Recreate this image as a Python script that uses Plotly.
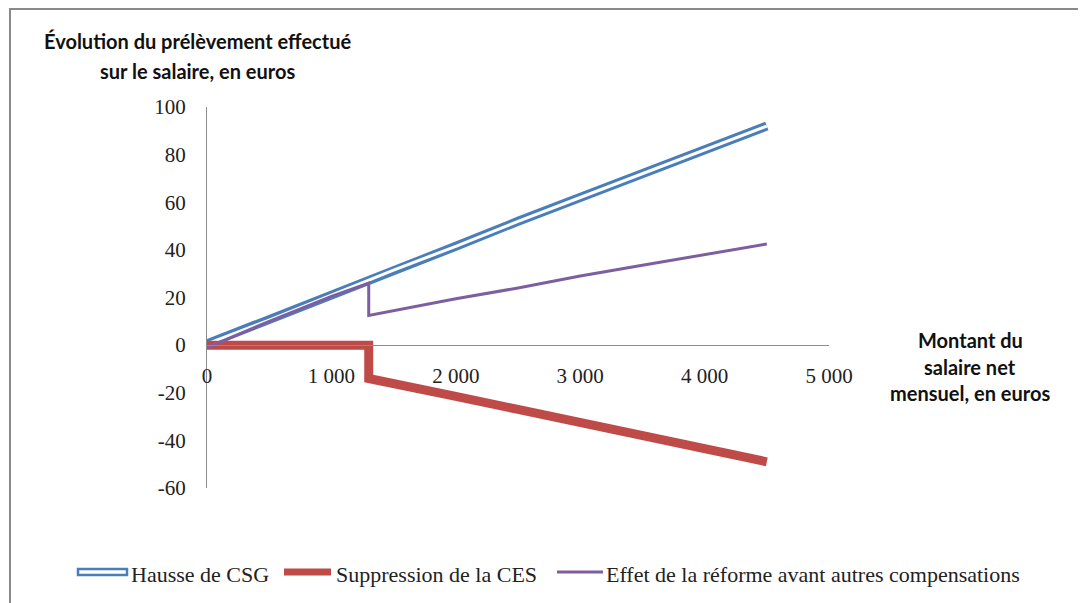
import plotly.graph_objects as go

# Data (net monthly salary in euros -> change in levy, euros)
salaire = [0, 500, 1000, 1300, 1300, 1500, 2000, 2500, 3000, 3500, 4000, 4500]
hausse_csg = [0.5, 10.5, 21, 27.5, 27.5, 31.5, 41.5, 52, 62, 72, 82, 92]
suppression_ces = [0, 0, 0, 0, -14, -16, -21.5, -27, -32.5, -38, -43.5, -49]
effet_reforme = [-1, 10, 20.5, 26, 12.5, 14.5, 19.5, 24, 29, 33.5, 38, 42.5]

x_ticks = [0, 1000, 2000, 3000, 4000, 5000]
y_ticks = [-60, -40, -20, 0, 20, 40, 60, 80, 100]
y_labels = ["-60", "-40", "-20", "0", "20", "40", "60", "80", "100"]

BLUE = "#4a7ebb"
RED = "#be4b48"
PURPLE = "#7d5fa0"
AXIS_GREY = "#8c8c8c"

# Page geometry (pixels, as seen in the browser window)
W, H = 1086, 603
L, R, T, B = 207, 829, 107, 488
OFF = 8  # default body margin of the html page


def px(x):
    return (x - L) / (R - L)


def py(y):
    return (B - y) / (B - T)


fig = go.Figure()

# Hausse de CSG: blue outline with white core
fig.add_trace(go.Scatter(x=salaire, y=hausse_csg, mode="lines",
                         line=dict(color=BLUE, width=9), name="Hausse de CSG"))
fig.add_trace(go.Scatter(x=salaire, y=hausse_csg, mode="lines",
                         line=dict(color="white", width=3), hoverinfo="skip"))
fig.add_trace(go.Scatter(x=salaire, y=suppression_ces, mode="lines",
                         line=dict(color=RED, width=9), name="Suppression de la CES"))
fig.add_trace(go.Scatter(x=salaire, y=effet_reforme, mode="lines",
                         line=dict(color=PURPLE, width=3),
                         name="Effet de la réforme avant autres compensations"))

serif = dict(family="Liberation Serif", size=21, color="#222")
bold = dict(family="Lato", size=20, color="#111")

fig.update_xaxes(range=[0, 5000], tickvals=x_ticks, tickformat=",d",
                 anchor="free", position=60 / 160,
                 showline=True, linecolor=AXIS_GREY, linewidth=1,
                 ticks="outside", ticklen=12, tickcolor="rgba(0,0,0,0)",
                 showgrid=False, zeroline=False, tickfont=serif)
fig.update_yaxes(range=[-60, 100], tickvals=y_ticks, ticktext=y_labels,
                 showline=True, linecolor=AXIS_GREY, linewidth=1,
                 ticks="outside", ticklen=16, tickcolor="rgba(0,0,0,0)",
                 showgrid=False, zeroline=False, tickfont=serif)

shapes = []
annotations = []

# outer frame (cropped on the right and bottom in the original)
shapes.append(dict(type="rect", xref="paper", yref="paper",
                   x0=px(10), x1=px(W + 20), y0=py(H + 20), y1=py(9),
                   line=dict(color="#8a8a8a", width=2)))

# axis titles, one annotation per line to get the wider line spacing
title_lines = [(197, 41, "Évolution du prélèvement effectué"),
               (197, 71, "sur le salaire, en euros"),
               (970, 340, "Montant du"),
               (970, 367, "salaire net"),
               (970, 393, "mensuel, en euros")]
for x_c, y_c, text in title_lines:
    annotations.append(dict(xref="paper", yref="paper", x=px(x_c), y=py(y_c),
                            xanchor="center", yanchor="middle",
                            text=f"<b>{text}</b>", showarrow=False, font=bold))

# legend drawn by hand so the CSG entry keeps its outlined look
legend_y = py(572)
shapes.append(dict(type="rect", xref="paper", yref="paper",
                   x0=px(78), x1=px(127), y0=py(575), y1=py(569),
                   line=dict(color=BLUE, width=2.5), fillcolor="white"))
shapes.append(dict(type="line", xref="paper", yref="paper",
                   x0=px(284), x1=px(331), y0=legend_y, y1=legend_y,
                   line=dict(color=RED, width=7)))
shapes.append(dict(type="line", xref="paper", yref="paper",
                   x0=px(557), x1=px(603), y0=legend_y, y1=legend_y,
                   line=dict(color=PURPLE, width=3)))
legend_font = dict(family="Liberation Serif", size=22, color="#222")
for x_text, label in [(129, "Hausse de CSG"), (334, "Suppression de la CES"),
                      (604, "Effet de la réforme avant autres compensations")]:
    annotations.append(dict(xref="paper", yref="paper", x=px(x_text), y=py(574),
                            xanchor="left", yanchor="middle", text=label,
                            showarrow=False, font=legend_font))

fig.update_layout(
    width=W - OFF, height=H - OFF,
    margin=dict(l=L - OFF, r=W - R, t=T - OFF, b=H - B),
    paper_bgcolor="white", plot_bgcolor="white",
    separators=", ",
    shapes=shapes, annotations=annotations,
    showlegend=False,
)

fig.write_html("out.html")
